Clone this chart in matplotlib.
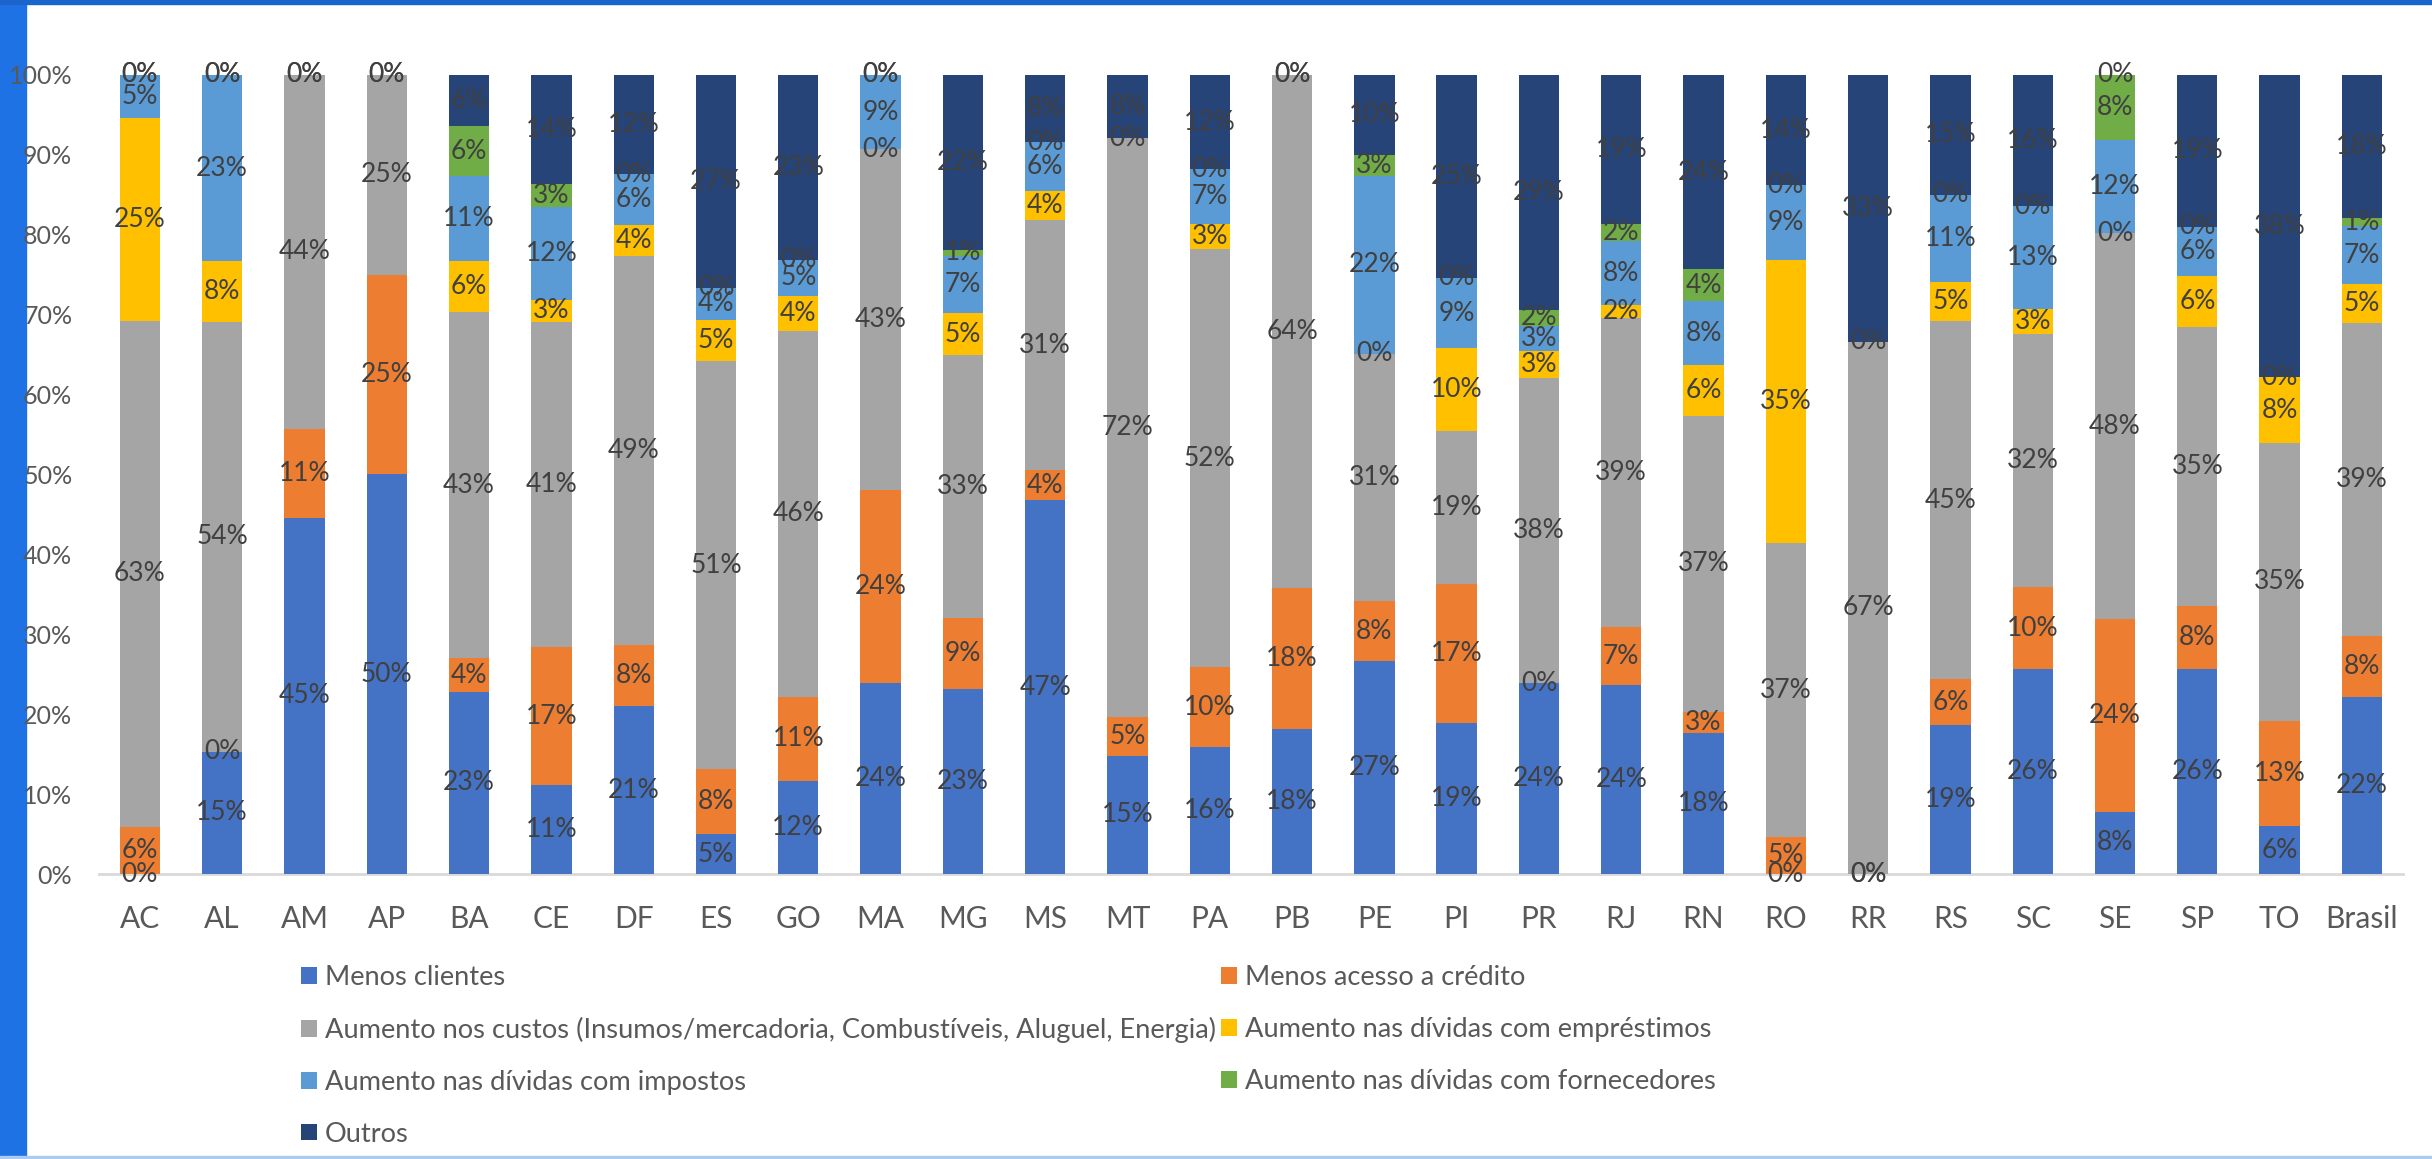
import numpy as np
import matplotlib.pyplot as plt
from matplotlib.patches import Rectangle

nan = np.nan  # nan = sem rótulo no gráfico original

estados = ['AC', 'AL', 'AM', 'AP', 'BA', 'CE', 'DF', 'ES', 'GO', 'MA', 'MG', 'MS', 'MT', 'PA',
           'PB', 'PE', 'PI', 'PR', 'RJ', 'RN', 'RO', 'RR', 'RS', 'SC', 'SE', 'SP', 'TO', 'Brasil']

menos_clientes = [0, 15.3, 44.6, 50, 22.8, 11.1, 21.0, 5.0, 11.6, 23.9, 23.1, 46.8, 14.8, 15.9,
                  18.1, 26.6, 18.9, 23.9, 23.6, 17.7, 0, 0, 18.6, 25.6, 7.8, 25.7, 6.0, 22.1]
menos_credito = [5.9, 0, 11.1, 25, 4.2, 17.3, 7.6, 8.1, 10.6, 24.1, 8.9, 3.7, 4.9, 10.0,
                 17.7, 7.6, 17.4, 0, 7.3, 2.6, 4.6, 0, 5.8, 10.3, 24.1, 7.9, 13.2, 7.7]
aumento_custos = [63.3, 53.8, 44.3, 25, 43.3, 40.7, 48.8, 51.1, 45.8, 42.7, 32.9, 31.4, 72.4, 52.3,
                  64.2, 30.9, 19.1, 38.2, 38.7, 37.0, 36.8, 66.6, 44.8, 31.7, 48.3, 34.9, 34.7, 39.2]
dividas_emprestimos = [25.4, 7.6, nan, nan, 6.4, 2.8, 3.8, 5.1, 4.3, 0, 5.3, 3.6, nan, 3.1,
                       nan, 0, 10.4, 3.4, 1.6, 6.4, 35.4, 0, 4.9, 3.1, 0, 6.4, 8.3, 4.8]
dividas_impostos = [5.4, 23.3, nan, nan, 10.6, 11.6, 6.4, 4.1, 4.6, 9.3, 7.2, 6.1, nan, 6.9,
                    nan, 22.3, 8.8, 3.1, 8.0, 8.0, 9.4, nan, 10.9, 12.9, 11.7, 6.1, 0, 7.3]
dividas_fornecedores = [0, 0, 0, 0, 6.3, 2.9, 0, 0, 0, 0, 0.7, 0, 0, 0,
                        0, 2.6, 0, 2.0, 2.2, 4.0, 0, nan, 0, 0, 8.1, 0, nan, 1.0]
outros = [0, 0, 0, 0, 6.4, 13.6, 12.4, 26.6, 23.1, 0, 21.9, 8.4, 7.9, 11.8,
          0, 10.0, 25.4, 29.4, 18.6, 24.3, 13.8, 33.4, 15.0, 16.4, 0, 19.0, 37.8, 17.9]

nomes = ['Menos clientes', 'Menos acesso a crédito',
         'Aumento nos custos (Insumos/mercadoria, Combustíveis, Aluguel, Energia)',
         'Aumento nas dívidas com empréstimos', 'Aumento nas dívidas com impostos',
         'Aumento nas dívidas com fornecedores', 'Outros']
cores = ['#4472C4', '#ED7D31', '#A5A5A5', '#FFC000', '#5B9BD5', '#70AD47', '#264478']

series = [menos_clientes, menos_credito, aumento_custos, dividas_emprestimos,
          dividas_impostos, dividas_fornecedores, outros]

plt.rcParams['font.family'] = ['Lato', 'DejaVu Sans']

fig = plt.figure(figsize=(24.32, 11.59), dpi=100)

# moldura azul da janela (captura de tela)
fig.patches.append(Rectangle((0, 0), 26 / 2432, 1, transform=fig.transFigure, color='#1F72E4', zorder=-5))
fig.patches.append(Rectangle((0, 1 - 4 / 1159), 1, 4 / 1159, transform=fig.transFigure, color='#1A64CC', zorder=-5))
fig.patches.append(Rectangle((0, 0), 1, 3 / 1159, transform=fig.transFigure, color='#A9CBF2', zorder=-5))

ax = fig.add_axes([0.0406, 0.2459, 0.9475, 0.6894])

vals = np.array(series, dtype=float)
alturas = np.nan_to_num(vals)
alturas = alturas / alturas.sum(axis=0) * 100  # 100% empilhado
x = np.arange(len(estados))

base = np.zeros(len(estados))
handles = []
for i in range(len(series)):
    b = ax.bar(x, alturas[i], 0.49, bottom=base, color=cores[i], label=nomes[i], zorder=2)
    handles.append(b)
    for j in range(len(estados)):
        if not np.isnan(vals[i, j]):
            ax.text(x[j], base[j] + alturas[i, j] / 2, f"{vals[i, j]:.0f}%",
                    ha='center', va='center', fontsize=19, color='#404040', zorder=3)
    base = base + alturas[i]

ax.set_xlim(-0.5, len(estados) - 0.5)
ax.set_ylim(0, 100)
ax.set_yticks(np.arange(0, 101, 10))
ax.set_yticklabels([f"{t}%" for t in range(0, 101, 10)])
ax.set_xticks(x)
ax.set_xticklabels(estados)

for s in ['top', 'right', 'left']:
    ax.spines[s].set_visible(False)
ax.spines['bottom'].set_color('#D9D9D9')
ax.spines['bottom'].set_linewidth(2)
ax.spines['bottom'].set_zorder(1)

ax.tick_params(axis='y', length=0, pad=19, labelsize=18, labelcolor='#595959')
ax.tick_params(axis='x', length=0, pad=22, labelsize=21.5, labelcolor='#595959')

# ordem das colunas: matplotlib preenche por coluna
ordem = [0, 2, 4, 6, 1, 3, 5]
ax.legend([handles[k] for k in ordem], [nomes[k] for k in ordem], ncol=2,
          loc='upper left', bbox_to_anchor=(0.1238, 0.167), bbox_transform=fig.transFigure,
          frameon=False, fontsize=19.6, labelcolor='#595959',
          handlelength=0.58, handleheight=0.58, handletextpad=0.3,
          columnspacing=0.2, labelspacing=0.98, borderpad=0, borderaxespad=0)

fig.savefig('out.png', dpi=100)
